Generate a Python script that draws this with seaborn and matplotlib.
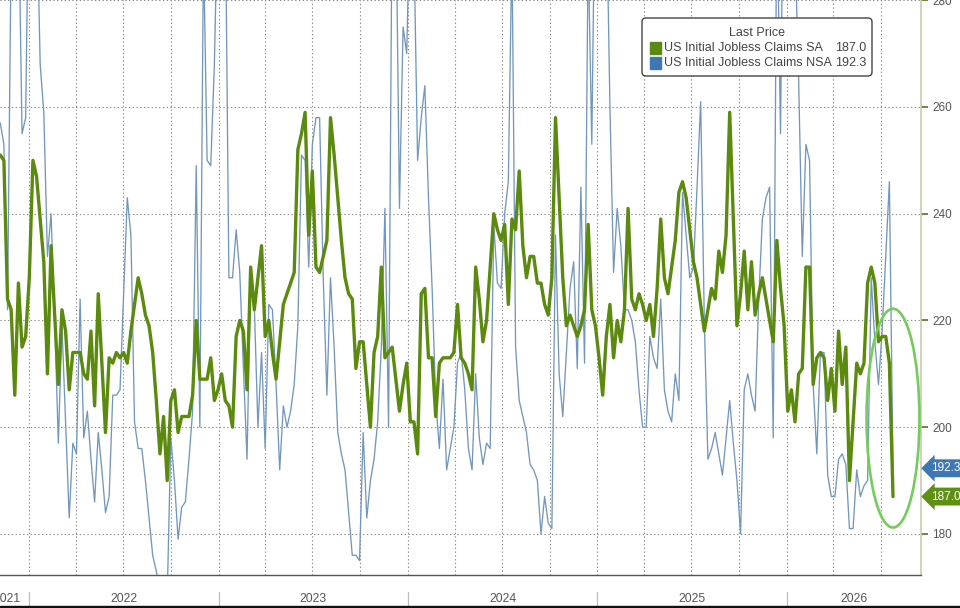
import numpy as np
import pandas as pd
import matplotlib
matplotlib.use("Agg")
import matplotlib.pyplot as plt
import matplotlib.dates as mdates
import matplotlib.transforms as mtrans
from matplotlib.patches import Ellipse, FancyBboxPatch, Rectangle
import seaborn as sns

# ---------------- data (weekly, thousands) ----------------
start_date = "2021-11-06"
sa = [251, 250, 224, 222, 206, 227, 215, 217, 228, 250,
      247, 239, 231, 210, 234, 221, 208, 222, 218, 207,
      214, 214, 214, 210, 209, 218, 204, 225, 212, 199,
      213, 212, 214, 213, 214, 212, 218, 223, 228, 225,
      221, 219, 214, 205, 195, 202, 190, 205, 207, 199,
      202, 202, 202, 206, 220, 209, 209, 209, 213, 205,
      207, 210, 205, 204, 200, 217, 220, 218, 207, 230,
      222, 228, 234, 217, 220, 214, 209, 216, 223, 225,
      227, 229, 252, 255, 259, 236, 248, 230, 229, 232,
      235, 258, 251, 243, 235, 228, 225, 224, 211, 216,
      216, 208, 200, 214, 217, 230, 213, 214, 215, 209,
      203, 208, 212, 201, 201, 195, 225, 226, 213, 213,
      202, 212, 213, 213, 213, 214, 223, 213, 212, 210,
      207, 230, 224, 216, 220, 230, 240, 237, 235, 238,
      223, 239, 237, 248, 234, 228, 232, 232, 227, 227,
      223, 221, 228, 258, 243, 228, 219, 221, 219, 217,
      219, 222, 238, 222, 219, 213, 206, 217, 223, 213,
      220, 216, 222, 241, 224, 222, 225, 223, 220, 223,
      217, 226, 239, 228, 225, 230, 235, 244, 246, 243,
      237, 231, 228, 223, 218, 222, 226, 224, 233, 229,
      236, 259, 239, 219, 225, 233, 222, 231, 221, 225,
      228, 224, 220, 216, 235, 226, 219, 203, 207, 201,
      210, 211, 230, 230, 208, 213, 214, 213, 205, 211,
      203, 218, 208, 215, 190, 201, 212, 210, 212, 227,
      230, 227, 216, 217, 217, 212, 187.0]
nsa = [257, 253, 222, 290, 310, 300, 255, 258, 310, 320,
       300, 268, 259, 232, 240, 220, 197, 219, 201, 183,
       197, 195, 224, 198, 203, 194, 186, 199, 192, 184,
       187, 206, 206, 207, 225, 243, 236, 201, 196, 196,
       190, 183, 176, 173, 170, 168, 168, 198, 190, 179,
       185, 186, 194, 203, 249, 200, 290, 250, 249, 268,
       300, 320, 300, 228, 228, 237, 229, 211, 194, 229,
       223, 200, 214, 196, 223, 222, 208, 192, 204, 200,
       203, 208, 219, 251, 250, 230, 253, 258, 258, 228,
       206, 228, 215, 199, 195, 192, 184, 176, 176, 175,
       199, 183, 190, 194, 201, 215, 241, 200, 300, 300,
       241, 275, 270, 300, 290, 250, 258, 264, 243, 226,
       205, 196, 209, 192, 196, 200, 212, 214, 207, 196,
       192, 210, 198, 193, 197, 196, 238, 227, 226, 240,
       246, 290, 215, 205, 202, 199, 193, 192, 190, 180,
       187, 182, 181, 236, 210, 202, 214, 226, 231, 211,
       245, 212, 290, 253, 310, 330, 320, 300, 260, 229,
       241, 234, 222, 222, 220, 216, 207, 200, 200, 217,
       213, 211, 224, 207, 203, 201, 210, 205, 244, 236,
       228, 230, 245, 261, 220, 194, 196, 199, 195, 191,
       198, 205, 197, 190, 180, 207, 210, 206, 203, 224,
       239, 243, 245, 198, 300, 255, 320, 330, 310, 290,
       265, 232, 253, 250, 208, 195, 214, 214, 191, 187,
       187, 194, 195, 193, 181, 181, 192, 187, 189, 190,
       228, 216, 208, 218, 232, 246, 192.3]
series_names = ["US Initial Jobless Claims SA", "US Initial Jobless Claims NSA"]
legend_title = "Last Price"
years = [2021, 2022, 2023, 2024, 2025, 2026]
y_ticks = [180, 200, 220, 240, 260, 280]

# ---------------- styling ----------------
C_SA = "#5b8a0e"
C_NSA = "#7397bc"
C_SA_TAG = "#5f8f14"
C_NSA_TAG = "#3d78b4"
C_TEXT = "#555555"
C_ELL = "#74cc5c"

dates = pd.date_range(start_date, periods=len(sa), freq="7D")
df = pd.DataFrame({"date": dates, "SA": sa, "NSA": nsa})

sns.set_style("white")
plt.rcParams["font.family"] = ["Liberation Sans", "DejaVu Sans"]

W, H = 960, 608
fig = plt.figure(figsize=(W / 100, H / 100), dpi=100)
ax = fig.add_axes([0, 33 / H, 921 / W, 575 / H])

sns.lineplot(data=df, x="date", y="NSA", ax=ax, color=C_NSA, lw=0.95, zorder=3)
sns.lineplot(data=df, x="date", y="SA", ax=ax, color=C_SA, lw=2.4, zorder=4)

x_left = pd.Timestamp("2021-11-05 12:00")
x_right = pd.Timestamp("2026-09-17")
ax.set_xlim(x_left, x_right)
ax.set_ylim(172.3, 280.05)
ax.set_xlabel("")
ax.set_ylabel("")

# grid
ax.set_yticks(y_ticks)
ax.xaxis.set_major_locator(mdates.MonthLocator(bymonth=[1, 4, 7, 10]))
ax.xaxis.set_minor_locator(mdates.MonthLocator())
ax.grid(True, which="major", axis="both", linestyle=(0, (1.2, 2.2)), color="#8a8a8a", lw=0.8)
ax.set_axisbelow(True)
ax.tick_params(axis="x", which="both", labelbottom=False, direction="out",
               length=3, width=0.8, color="#666666")

# right axis
ax.yaxis.tick_right()
ax.tick_params(axis="y", which="major", direction="out", length=5, width=1.2,
               color="#55701f", labelsize=8.5, labelcolor=C_TEXT, pad=3)
for s in ["top", "left"]:
    ax.spines[s].set_visible(False)
ax.spines["right"].set_color("#c5cfb0")
ax.spines["right"].set_linewidth(1.2)
ax.spines["bottom"].set_color("#555555")
ax.spines["bottom"].set_linewidth(1.0)

# year band below axis
blend = mtrans.blended_transform_factory(ax.transData, fig.transFigure)
for yr in years[1:]:
    d = mdates.date2num(pd.Timestamp(f"{yr}-01-01"))
    ax.plot([d, d], [1 - 592 / H, 1 - 607 / H], transform=blend, color="#bdbdbd",
            lw=0.9, clip_on=False)
xl, xr = mdates.date2num(x_left), mdates.date2num(x_right)
for yr in years:
    a = max(mdates.date2num(pd.Timestamp(f"{yr}-01-01")), xl)
    b = min(mdates.date2num(pd.Timestamp(f"{yr + 1}-01-01")), xr)
    if yr == years[0]:
        fig.text(21 / W, 1 - 599 / H, str(yr), ha="right", va="center",
                 fontsize=8.8, color=C_TEXT)
    else:
        ax.text((a + b) / 2, 1 - 599 / H, str(yr), transform=blend, ha="center",
                va="center", fontsize=8.8, color=C_TEXT, clip_on=False)
fig.patches.append(Rectangle((0, 0), 1, 2 / H, transform=fig.transFigure,
                             color="#111111", zorder=10))

# last value tags
tag_tr = mtrans.blended_transform_factory(ax.transAxes, ax.transData)
for val, col in [(nsa[-1], C_NSA_TAG), (sa[-1], C_SA_TAG)]:
    ax.text(1.0 + 10 / 921, val, f"{val:.1f}", transform=tag_tr, ha="left", va="center",
            fontsize=8.5, color="white", clip_on=False, zorder=6,
            bbox=dict(boxstyle="larrow,pad=0.25", fc=col, ec="none"))

# highlight ellipse around the latest drop
last = mdates.date2num(dates[-1])
ell = Ellipse((last, sa[-1] + 14.7), width=102, height=41, fill=False,
              ec=C_ELL, lw=1.9, zorder=5)
ax.add_patch(ell)

# legend box (Bloomberg style)
box = FancyBboxPatch((642 / 100, (H - 76) / 100), 230 / 100, 58 / 100,
                     boxstyle="round,pad=0,rounding_size=0.04",
                     transform=fig.dpi_scale_trans, fc="white", ec="#444444",
                     lw=1.0, zorder=20)
fig.patches.append(box)
fig.text(757 / W, 1 - 33 / H, legend_title, ha="center", va="center",
         fontsize=9, color="#444444", zorder=21)
for k, (name, col, val, yy) in enumerate([
        (series_names[0], C_SA, sa[-1], 48),
        (series_names[1], C_NSA_TAG, nsa[-1], 63)]):
    fig.patches.append(Rectangle((649.5 / 100, (H - yy - 5.7) / 100), 11.4 / 100, 11.4 / 100,
                                 transform=fig.dpi_scale_trans, color=col, zorder=21))
    fig.text(664 / W, 1 - yy / H, name, ha="left", va="center", fontsize=9,
             color="#444444", zorder=21)
    fig.text(866 / W, 1 - yy / H, f"{val:.1f}", ha="right", va="center", fontsize=9,
             color="#444444", zorder=21)

fig.savefig("out.png", dpi=100)
